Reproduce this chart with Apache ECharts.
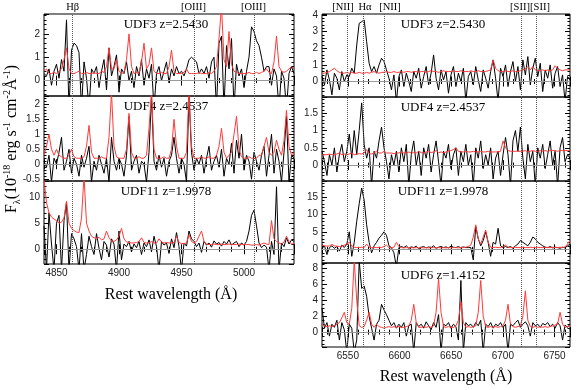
<!DOCTYPE html>
<html>
<head>
<meta charset="utf-8">
<script src="https://cdn.jsdelivr.net/npm/echarts@6/dist/echarts.min.js"></script>
<style>
html, body { margin: 0; padding: 0; background: #fff; }
#chart { width: 581px; height: 390px; }
</style>
</head>
<body>
<div id="chart"></div>
<script>
// wavelength sampling of the spectra (rest frame, Angstrom)
const hbStart = 4840, hbStep = 2;
const haStart = 6525, haStep = 2.4;

// emission line positions and their labels
const hbLines = [4862.7, 4960.3, 5008.2];
const haLines = [6549.9, 6564.6, 6585.3, 6718.3, 6732.7];
const hbLineNames = ['H\u03b2', '[OIII]', '[OIII]'];
const haLineNames = ['[NII]', 'H\u03b1', '[NII]', '[SII]', '[SII]'];

const panelNames = ['UDF3 z=2.5430', 'UDF4 z=2.4537', 'UDF11 z=1.9978',
                    'UDF3 z=2.5430', 'UDF4 z=2.4537', 'UDF11 z=1.9978', 'UDF6 z=1.4152'];

// ---- H-beta / [OIII] window ----
const udf3HbFlux = [0.3,0.2,0.5,-0.2,0.4,0.7,0.1,0.9,0.4,2.6,
  -1.2,1.3,1.6,1.5,1.2,-1.2,0.8,0.1,-1.2,0.5,
  0.3,0.6,-0.3,0.4,0.9,-0.4,1.4,0.2,0.6,1.1,
  -0.5,0.5,0.3,0.8,0.0,0.4,-0.3,0.6,0.2,0.9,
  -0.2,0.5,0.1,0.7,-1.2,0.3,0.6,0.0,0.4,0.8,
  -0.1,0.5,0.2,0.6,0.3,0.4,0.2,0.5,0.9,1.0,
  0.9,0.8,0.3,0.5,0.3,0.6,0.1,0.8,1.0,-1.2,
  1.6,1.9,-1.2,1.5,0.5,1.8,-1.2,0.7,0.2,0.5,
  -0.3,0.4,1.0,2.3,2.1,1.7,1.5,1.0,0.4,0.6,
  0.6,-0.2,0.5,0.2,-1.2,0.4,0.1,-1.2,0.3,0.6,
  0.3];
const udf3HbNoise = [0.4,0.5,0.3,0.3,0.35,0.3,0.4,0.5,0.9,1.4,
  0.5,0.3,0.3,0.35,0.4,0.3,0.3,0.35,0.3,0.3,
  0.35,0.3,0.3,0.4,0.35,0.6,1.4,0.5,0.5,0.9,
  0.4,0.3,0.35,0.9,2.0,0.6,0.3,0.35,0.3,0.8,
  1.6,0.5,0.7,1.4,0.4,0.3,0.3,0.35,0.3,0.3,
  0.6,1.3,0.4,0.3,0.3,0.3,0.35,0.5,0.3,0.3,
  0.3,0.3,0.35,0.3,0.3,0.3,0.35,0.3,0.4,0.6,
  1.8,3.2,0.9,0.6,2.1,0.7,0.4,0.35,0.3,0.3,
  0.3,0.3,0.35,0.3,0.3,0.35,0.3,0.35,0.4,0.5,
  0.35,0.3,0.8,1.9,0.6,0.4,0.35,0.4,0.5,0.6,
  0.5];

const udf4HbFlux = [0.1,-0.1,0.3,-0.6,0.2,0.0,0.4,0.9,-0.2,0.1,
  0.5,-0.3,0.2,0.0,-0.4,0.3,-0.1,0.2,0.6,-0.6,
  0.1,-0.2,0.3,0.0,-0.3,0.2,-0.6,0.9,0.1,-0.2,
  0.2,0.0,-0.4,0.3,1.6,-0.2,0.1,0.3,-0.3,0.1,
  0.0,-0.6,0.4,2.3,0.1,-0.2,0.3,-0.1,0.2,-0.4,
  0.1,0.3,0.9,0.2,-0.3,0.2,0.0,-0.6,2.3,0.4,
  -0.2,0.2,0.0,0.3,-0.3,0.2,0.6,-0.2,0.1,0.3,
  -0.1,0.5,-0.4,0.2,0.0,0.7,-0.3,0.8,0.2,1.0,
  -0.2,0.3,0.1,-0.5,0.4,0.1,-0.2,0.3,0.6,-0.4,
  0.3,1.0,-0.3,0.5,0.1,-0.6,0.4,1.6,-0.6,0.3,
  0.2];
const udf4HbNoise = [0.3,0.6,1.0,0.5,0.3,0.5,0.3,0.25,0.2,0.2,
  0.3,0.5,0.25,0.2,0.2,0.2,0.25,0.6,1.3,0.4,
  0.2,0.2,0.2,0.25,0.2,0.2,0.9,2.4,0.6,0.25,
  0.2,0.2,0.2,0.5,1.7,0.4,0.2,0.2,0.25,0.2,
  0.2,0.3,1.2,2.4,0.5,0.2,0.2,0.2,0.25,0.2,
  0.2,0.5,1.5,0.6,0.2,0.2,0.2,0.4,2.4,0.6,
  0.2,0.2,0.2,0.25,0.2,0.2,0.25,0.2,0.2,0.3,
  0.6,1.2,0.4,0.2,0.3,0.4,1.0,1.6,0.5,0.25,
  0.2,0.2,0.25,0.2,0.2,0.2,0.3,0.3,0.6,0.9,
  0.4,0.3,0.4,0.8,0.5,0.3,0.8,1.8,0.6,0.3,
  0.4];

const udf11HbFlux = [4.5,-4,7,1,-4,5,6.5,-4,5.5,9,
  -4,3,2,0.5,-4,3,-4,-1,2.5,0.5,
  -1,3,0.2,-2,1.5,0.8,-1.5,2,1,-4,
  3.5,-2,1,0.5,1.5,-0.5,1,0.3,1.5,-1,
  1.2,0.5,1.8,-0.5,2.5,0.5,-4,1.5,0.8,1.2,
  -0.8,2,0.3,3.2,0.5,-4,1.2,0.6,3.5,2,
  1.5,0.5,1.2,-0.6,1.5,0.8,1.2,0.4,1.6,1.0,
  1.3,0.6,1.5,1.0,1.8,0.8,1.2,1.5,0.5,1.2,
  0.8,1.5,3.5,6.5,7.5,4.5,1.2,0.3,0.8,0.4,
  -4,1.5,-1,12,-4,1.2,0.5,2.2,1.0,1.8,
  1.5];
const udf11HbNoise = [13.5,9,7,6.2,5.8,5.5,5,5.2,6,9.2,
  5,4,3.6,3.3,3.2,6,14,5,3.5,2.5,
  2.2,2.0,2.3,1.8,2.0,3.5,2.2,1.6,1.5,1.8,
  2.5,4.0,2.0,1.4,1.3,1.2,1.2,1.3,1.5,2.2,
  1.3,1.2,1.2,1.5,1.2,1.2,2.0,1.4,1.2,1.3,
  1.2,1.2,1.3,2.5,1.3,1.1,1.1,1.2,2.8,1.5,
  1.2,1.5,2.5,3.5,1.5,1.0,0.9,0.9,1.0,0.9,
  0.9,1.0,0.9,0.9,1.0,0.9,0.9,0.9,1.0,0.9,
  0.9,0.9,0.9,0.8,0.8,0.9,0.8,1.0,1.2,1.0,
  0.9,5.5,2.0,1.5,1.2,1.0,1.4,2.5,1.5,1.0,
  1.1];

// ---- H-alpha / [NII] / [SII] window ----
const udf3HaFlux = [0.3,-0.2,0.7,0.1,-0.8,0.5,0.2,-0.5,0.6,0.0,
  0.4,0.3,0.8,0.5,2.2,3.5,3.6,3.7,2.4,1.1,
  0.6,0.9,0.5,1.0,1.4,1.2,0.7,0.2,-0.5,0.4,
  -1.2,0.3,0.7,-0.3,0.5,0.0,-0.6,0.6,0.2,0.8,
  -0.4,0.3,0.9,-0.2,0.5,1.6,0.2,-0.5,0.7,0.1,
  0.6,-0.7,0.4,0.9,-0.3,0.5,0.0,0.8,-1.2,0.3,
  0.6,-0.2,0.9,0.1,-0.6,0.7,0.2,-0.4,0.6,1.3,
  0.2,-1.2,0.8,0.3,1.0,-0.3,0.6,1.2,0.0,0.9,
  -0.5,1.3,0.4,1.5,-0.2,0.8,1.4,0.3,1.1,-0.6,
  0.7,0.2,1.0,-0.4,0.5,0.9,-0.3,0.4,-1.2,0.3,
  0.1];
const udf3HaNoise = [0.5,0.5,0.55,0.6,0.7,0.8,0.65,0.55,0.5,0.5,
  0.55,0.5,0.55,0.5,0.5,0.55,0.5,0.5,0.55,0.5,
  0.55,0.6,0.55,0.5,0.55,0.55,0.6,0.55,0.55,0.6,
  0.55,0.55,0.6,0.55,0.6,0.6,0.55,0.6,0.6,0.55,
  0.6,0.6,0.55,0.6,0.65,0.6,0.6,0.55,0.6,0.65,
  0.6,0.6,0.6,0.65,0.6,0.6,0.65,0.6,0.6,0.6,
  0.65,0.6,0.6,0.65,0.6,0.6,0.6,0.65,0.7,1.3,
  0.8,0.65,0.6,0.6,0.65,0.6,0.6,0.65,0.6,0.6,
  0.65,0.7,0.75,0.9,0.7,0.9,0.7,0.65,0.65,0.7,
  0.65,0.7,0.65,0.7,0.95,0.8,0.7,0.65,0.7,0.7,
  0.7];

const udf4HaFlux = [0.4,0.1,-0.3,0.3,0.0,0.5,-0.2,0.3,0.6,0.1,
  0.4,0.9,0.2,1.0,0.3,1.0,1.8,0.6,0.2,0.5,
  -0.6,0.4,0.2,0.7,1.1,0.5,0.1,-0.4,0.3,0.0,
  0.4,-0.2,0.5,0.1,0.6,-0.6,0.3,0.7,0.0,0.4,
  -0.3,0.5,0.2,0.6,-0.2,0.3,0.7,0.1,-0.6,0.4,
  0.2,0.6,-0.1,0.3,0.5,-0.3,0.4,0.1,0.6,0.0,
  0.3,-0.6,0.5,0.2,0.7,-0.1,0.3,0.0,0.5,-0.4,
  0.2,0.4,-0.3,0.3,0.8,0.3,-0.6,0.7,1.0,0.4,
  1.1,0.2,-0.4,0.6,0.1,0.4,-0.6,0.5,0.2,0.6,
  -0.1,0.3,0.7,0.0,0.4,-0.6,0.5,0.8,0.1,0.3,
  0.2];
const udf4HaNoise = [0.3,0.3,0.3,0.32,0.3,0.3,0.32,0.35,0.3,0.32,
  0.3,0.32,0.35,0.3,0.32,0.33,0.32,0.35,0.45,0.33,
  0.32,0.35,0.4,0.35,0.35,0.4,0.35,0.35,0.35,0.33,
  0.35,0.35,0.38,0.35,0.35,0.38,0.35,0.36,0.35,0.4,
  0.36,0.35,0.38,0.4,0.36,0.38,0.42,0.36,0.38,0.36,
  0.38,0.4,0.42,0.45,0.5,0.4,0.38,0.38,0.4,0.38,
  0.38,0.4,0.38,0.38,0.4,0.38,0.38,0.4,0.38,0.38,
  0.38,0.38,0.4,0.7,0.5,0.42,0.4,0.4,0.4,0.4,
  0.4,0.4,0.42,0.38,0.4,0.42,0.4,0.4,0.42,0.4,
  0.42,0.4,0.42,0.42,0.42,0.4,0.42,0.42,0.42,0.42,
  0.42];

const udf11HaFlux = [0.2,1.0,-1.5,0.5,1.0,0.3,0.8,-0.5,1.2,0.5,
  1.5,5.0,-2.0,2.0,8.0,13.0,17.5,14.0,7.0,2.0,
  -1.0,1.0,2.0,3.2,4.0,5.0,4.0,1.0,0.5,-1.0,
  -5.0,0.5,0.8,0.5,1.0,0.3,0.7,0.5,0.9,0.2,
  0.6,0.8,0.4,0.7,0.5,1.0,0.3,0.6,0.8,0.5,
  0.7,0.4,0.9,0.6,0.5,0.8,0.4,0.7,0.5,0.5,
  0.5,-3.0,6.5,3.0,1.0,2.5,5.0,2.0,-2.0,2.0,
  1.5,6.0,1.0,0.5,0.8,0.5,0.8,0.3,1.0,1.5,
  2.5,2.0,1.5,1.0,2.0,3.5,3.0,2.0,1.5,1.0,
  0.6,0.5,0.8,0.4,0.6,0.5,0.3,0.6,0.4,1.0,
  1.5];
const udf11HaNoise = [1.2,1.0,0.9,1.0,1.4,1.0,0.9,0.8,0.9,1.2,
  1.5,2.0,1.0,0.6,0.5,0.5,0.6,0.5,1.5,0.6,
  0.5,0.5,0.5,0.6,0.5,0.8,1.2,0.5,0.4,0.6,
  2.0,0.8,0.5,0.4,0.5,0.4,0.5,0.4,0.5,0.4,
  0.5,0.4,0.5,0.4,0.5,0.5,0.4,0.5,0.4,0.5,
  0.4,0.5,0.4,0.5,0.5,0.4,0.5,0.5,0.6,0.8,
  1.2,3.5,7.0,3.0,1.5,3.5,5.5,2.0,0.6,0.5,
  0.6,0.5,0.5,0.8,1.2,0.6,0.5,0.5,0.6,0.5,
  0.5,0.6,0.5,0.5,0.6,0.5,0.5,0.6,0.5,0.5,
  0.6,0.5,0.5,0.6,0.5,0.5,0.6,0.5,0.7,1.5,
  2.5];

const udf6HaFlux = [3.0,0.5,1.2,-0.5,1.0,0.6,1.5,-1.0,1.2,0.3,
  -2.5,1.0,0.5,-2.5,-1.0,9.0,5.5,5.8,4.5,2.0,
  0.5,-1.0,1.0,1.5,3.5,2.8,2.2,1.5,0.8,1.2,
  0.5,1.0,0.6,1.2,-0.5,0.8,1.0,-2.5,1.2,0.7,
  1.0,0.5,1.3,0.8,0.3,1.2,0.6,2.2,-2.5,1.0,
  0.8,1.2,0.5,1.0,0.7,-1.0,6.5,-2.5,1.2,0.8,
  1.0,0.6,1.2,0.8,1.5,-2.5,1.0,0.7,1.2,0.5,
  1.0,0.8,1.2,0.6,1.0,-2.5,1.0,0.8,1.2,1.5,
  0.6,1.0,1.3,0.8,-0.5,1.2,0.8,1.0,0.6,1.1,
  0.9,1.2,0.7,1.0,0.5,1.2,0.8,-1.0,0.9,0.6,
  1.0];
const udf6HaNoise = [1.0,0.8,0.7,0.8,0.7,0.8,1.0,1.2,1.8,2.5,
  1.2,1.0,3.0,9.0,4.0,0.8,0.6,0.7,1.5,2.5,
  1.0,0.6,1.0,0.7,0.6,0.5,0.6,0.7,0.6,0.7,
  0.6,0.7,0.6,0.6,0.7,0.8,1.5,3.5,1.2,0.6,
  0.6,0.7,0.6,0.7,0.6,0.8,2.5,6.7,2.5,0.7,
  0.6,0.7,0.6,0.6,0.8,1.5,3.8,1.2,0.6,0.7,
  0.6,0.7,0.8,2.5,6.5,2.0,0.7,0.6,0.7,0.6,
  0.7,0.6,0.7,0.8,1.5,3.5,1.0,0.7,0.6,0.7,
  0.8,2.0,5.2,1.5,0.7,0.6,0.7,0.6,0.7,0.6,
  0.7,0.6,0.7,0.8,0.9,1.0,2.5,1.0,0.6,0.7,
  0.8];

const SERIF = '"Liberation Serif","Times New Roman",serif';
const SANS = '"Liberation Sans",Arial,sans-serif';

const hbCol = { left: 44, width: 250, min: 4840, max: 5040, start: hbStart, step: hbStep, lines: hbLines };
const haCol = { left: 322, width: 248, min: 6525, max: 6765, start: haStart, step: haStep, lines: haLines };

const panels = [
  { col: hbCol, top: 14, height: 82, yMin: -0.66, yMax: 2.85, yInt: 1, ySplit: 5, flux: udf3HbFlux, noise: udf3HbNoise, xLabels: false },
  { col: hbCol, top: 96, height: 85, yMin: -0.56, yMax: 2.28, yInt: 0.5, ySplit: 5, flux: udf4HbFlux, noise: udf4HbNoise, xLabels: false },
  { col: hbCol, top: 181, height: 83, yMin: -2.83, yMax: 13.1, yInt: 5, ySplit: 5, flux: udf11HbFlux, noise: udf11HbNoise, xLabels: true },
  { col: haCol, top: 14, height: 83, yMin: -0.93, yMax: 4.06, yInt: 1, ySplit: 5, flux: udf3HaFlux, noise: udf3HaNoise, xLabels: false },
  { col: haCol, top: 97, height: 84, yMin: -0.46, yMax: 1.97, yInt: 0.5, ySplit: 5, flux: udf4HaFlux, noise: udf4HaNoise, xLabels: false },
  { col: haCol, top: 181, height: 82, yMin: -3.9, yMax: 19.5, yInt: 5, ySplit: 5, flux: udf11HaFlux, noise: udf11HaNoise, xLabels: false },
  { col: haCol, top: 263, height: 84, yMin: -1.87, yMax: 8.7, yInt: 2, ySplit: 4, flux: udf6HaFlux, noise: udf6HaNoise, xLabels: true }
];

const tickStyle = { color: '#000', width: 1 };
const plainNumber = v => String(v);
const grid = [], xAxis = [], yAxis = [], series = [];

panels.forEach((p, i) => {
  const c = p.col;
  grid.push({ left: c.left, width: c.width, top: p.top, height: p.height,
    show: true, borderColor: '#000', borderWidth: 1, backgroundColor: 'transparent' });

  const xBase = {
    type: 'value', gridIndex: i, min: c.min, max: c.max, minInterval: 50, maxInterval: 50,
    splitLine: { show: false }, axisLine: { show: false },
    axisTick: { inside: true, length: 5, lineStyle: tickStyle },
    minorTick: { show: true, splitNumber: 5, length: 2.5, lineStyle: tickStyle }
  };
  xAxis.push(Object.assign({}, xBase, { position: 'bottom',
    axisLabel: { show: p.xLabels, showMinLabel: false, showMaxLabel: false, margin: 4,
      fontFamily: SANS, fontSize: 10, color: '#222', formatter: plainNumber } }));
  xAxis.push(Object.assign({}, xBase, { position: 'top', axisLabel: { show: false } }));

  const yBase = {
    type: 'value', gridIndex: i, min: p.yMin, max: p.yMax, minInterval: p.yInt, maxInterval: p.yInt,
    splitLine: { show: false }, axisLine: { show: false },
    axisTick: { inside: true, length: 5, lineStyle: tickStyle },
    minorTick: { show: true, splitNumber: p.ySplit, length: 2.5, lineStyle: tickStyle }
  };
  yAxis.push(Object.assign({}, yBase, { position: 'left',
    axisLabel: { showMinLabel: false, showMaxLabel: false, margin: 4,
      fontFamily: SANS, fontSize: 10, color: '#222', formatter: plainNumber } }));
  yAxis.push(Object.assign({}, yBase, { position: 'right', axisLabel: { show: false } }));

  const toPairs = arr => arr.map((v, k) => [c.start + k * c.step, v]);

  series.push({
    type: 'line', xAxisIndex: 2 * i, yAxisIndex: 2 * i,
    showSymbol: false, silent: true, data: toPairs(p.flux),
    lineStyle: { color: '#000', width: 1 },
    markLine: {
      silent: true, symbol: 'none', label: { show: false },
      data: [{ yAxis: 0, lineStyle: { color: '#999', width: 1, type: 'solid' } }]
        .concat(c.lines.map(v => ({ xAxis: v, lineStyle: { color: '#555', width: 1, type: 'dotted' } })))
    }
  });
  series.push({
    type: 'line', xAxisIndex: 2 * i, yAxisIndex: 2 * i,
    showSymbol: false, silent: true, data: toPairs(p.noise),
    lineStyle: { color: '#ff3a3a', width: 1 }
  });
});

// text annotations
const texts = [];
const labelY = [25, 107, 192, 25, 108, 192, 276];
panels.forEach((p, i) => {
  texts.push({ type: 'text', x: p.col.left + p.col.width / 2 - 3, y: labelY[i],
    style: { text: panelNames[i], font: '13px ' + SERIF, fill: '#000', align: 'center', verticalAlign: 'middle' } });
});
const lineLabelX = { hb: [72.7, 193.5, 253.5], ha: [343, 365, 390, 520, 540] };
hbLineNames.forEach((t, k) => texts.push({ type: 'text', x: lineLabelX.hb[k], y: 7,
  style: { text: t, font: '10.5px ' + SERIF, fill: '#000', align: 'center', verticalAlign: 'middle' } }));
haLineNames.forEach((t, k) => texts.push({ type: 'text', x: lineLabelX.ha[k], y: 7,
  style: { text: t, font: '10.5px ' + SERIF, fill: '#000', align: 'center', verticalAlign: 'middle' } }));

texts.push({ type: 'text', x: 171, y: 295,
  style: { text: 'Rest wavelength (\u00c5)', font: '16px ' + SERIF, fill: '#000', align: 'center', verticalAlign: 'middle' } });
texts.push({ type: 'text', x: 446, y: 377,
  style: { text: 'Rest wavelength (\u00c5)', font: '16px ' + SERIF, fill: '#000', align: 'center', verticalAlign: 'middle' } });
texts.push({ type: 'text', x: 12, y: 139, rotation: Math.PI / 2,
  style: {
    text: '{n|F}{sub|\u03bb}{n|(10}{sup|-18}{n| erg s}{sup|-1}{n| cm}{sup|-2}{n|\u00c5}{sup|-1}{n|)}',
    align: 'center', verticalAlign: 'middle', fill: '#000',
    rich: {
      n: { fontFamily: SERIF, fontSize: 16, lineHeight: 20 },
      sup: { fontFamily: SERIF, fontSize: 10, lineHeight: 10, verticalAlign: 'top' },
      sub: { fontFamily: SERIF, fontSize: 10, lineHeight: 10, verticalAlign: 'bottom' }
    }
  } });

const chart = echarts.init(document.getElementById('chart'), null, { renderer: 'canvas' });
chart.setOption({
  animation: false,
  backgroundColor: '#fff',
  grid, xAxis, yAxis, series,
  graphic: { elements: texts }
});
</script>
</body>
</html>
